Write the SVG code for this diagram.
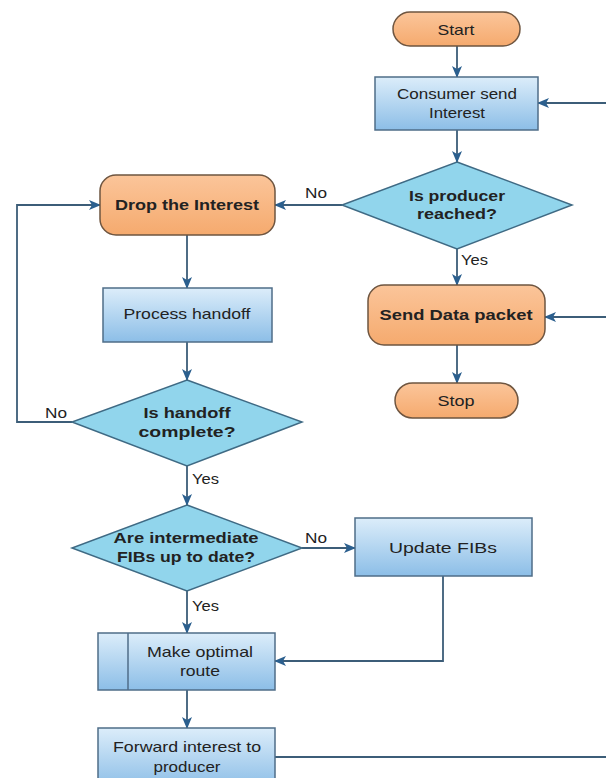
<svg xmlns="http://www.w3.org/2000/svg" width="606" height="778" viewBox="0 0 606 778">
  <defs>
    <linearGradient id="gOrange" x1="0" y1="0" x2="0" y2="1">
      <stop offset="0" stop-color="#fbc59a"/>
      <stop offset="1" stop-color="#f5aa6e"/>
    </linearGradient>
    <linearGradient id="gBlue" x1="0" y1="0" x2="0" y2="1">
      <stop offset="0" stop-color="#dcedfa"/>
      <stop offset="1" stop-color="#8cbee7"/>
    </linearGradient>
    <marker id="arrow" viewBox="0 0 12 10" refX="11" refY="5" markerWidth="12" markerHeight="10" markerUnits="userSpaceOnUse" orient="auto">
      <path d="M0,0 L12,5 L0,10 L3,5 Z" fill="#2b5f8e"/>
    </marker>
    <style>
      .term { fill: url(#gOrange); stroke: #6e5540; stroke-width: 1.5; }
      .proc { fill: url(#gBlue); stroke: #4f6d88; stroke-width: 1.5; }
      .dec { fill: #91d5ec; stroke: #3f6a84; stroke-width: 1.5; }
      .link { fill: none; stroke: #3c5d78; stroke-width: 1.8; }
      .txt { font-family: "Liberation Sans", Arial, sans-serif; font-size: 15px; fill: #222; text-anchor: middle; }
      .b { font-weight: bold; }
      .lbl { font-family: "Liberation Sans", Arial, sans-serif; font-size: 14px; fill: #222; }
    </style>
  </defs>
  <rect width="606" height="778" fill="#ffffff"/>

  <!-- connectors -->
  <g id="connectors">
    <path class="link" d="M457,46 V77" marker-end="url(#arrow)"/>
    <path class="link" d="M606,103 H538" marker-end="url(#arrow)"/>
    <path class="link" d="M457,130 V162" marker-end="url(#arrow)"/>
    <path class="link" d="M342,205 H275" marker-end="url(#arrow)"/>
    <path class="link" d="M457,249 V285" marker-end="url(#arrow)"/>
    <path class="link" d="M606,317 H545" marker-end="url(#arrow)"/>
    <path class="link" d="M457,345 V383" marker-end="url(#arrow)"/>
    <path class="link" d="M187,235 V288" marker-end="url(#arrow)"/>
    <path class="link" d="M187,342 V380" marker-end="url(#arrow)"/>
    <path class="link" d="M72,422 H17 V205 H100" marker-end="url(#arrow)"/>
    <path class="link" d="M187,466 V505" marker-end="url(#arrow)"/>
    <path class="link" d="M302,548 H355" marker-end="url(#arrow)"/>
    <path class="link" d="M187,591 V633" marker-end="url(#arrow)"/>
    <path class="link" d="M443,576 V661 H275" marker-end="url(#arrow)"/>
    <path class="link" d="M187,690 V728" marker-end="url(#arrow)"/>
    <path class="link" d="M275,757 H606"/>
    <text class="lbl" x="305" y="198" textLength="22" lengthAdjust="spacingAndGlyphs">No</text>
    <text class="lbl" x="461" y="265" textLength="27" lengthAdjust="spacingAndGlyphs">Yes</text>
    <text class="lbl" x="45" y="418" textLength="22" lengthAdjust="spacingAndGlyphs">No</text>
    <text class="lbl" x="192" y="484" textLength="27" lengthAdjust="spacingAndGlyphs">Yes</text>
    <text class="lbl" x="305" y="543" textLength="22" lengthAdjust="spacingAndGlyphs">No</text>
    <text class="lbl" x="192" y="611" textLength="27" lengthAdjust="spacingAndGlyphs">Yes</text>
  </g>

  <g id="start">
    <rect class="term" x="393" y="12" width="127" height="34" rx="17"/>
    <text class="txt" x="456" y="35" textLength="37" lengthAdjust="spacingAndGlyphs">Start</text>
  </g>

  <g id="consumer-send">
    <rect class="proc" x="375" y="77" width="163" height="53"/>
    <text class="txt" x="457" y="99" textLength="120" lengthAdjust="spacingAndGlyphs">Consumer send</text>
    <text class="txt" x="457" y="118" textLength="56" lengthAdjust="spacingAndGlyphs">Interest</text>
  </g>

  <g id="producer-reached">
    <polygon class="dec" points="457,162 572,205 457,249 342,205"/>
    <text class="txt b" x="457" y="201" textLength="96" lengthAdjust="spacingAndGlyphs">Is producer</text>
    <text class="txt b" x="457" y="219" textLength="80" lengthAdjust="spacingAndGlyphs">reached?</text>
  </g>

  <g id="drop-interest">
    <rect class="term" x="100" y="175" width="175" height="60" rx="16"/>
    <text class="txt b" x="187" y="210" textLength="144" lengthAdjust="spacingAndGlyphs">Drop the Interest</text>
  </g>

  <g id="send-data">
    <rect class="term" x="368" y="285" width="177" height="60" rx="16"/>
    <text class="txt b" x="456" y="320" textLength="153" lengthAdjust="spacingAndGlyphs">Send Data packet</text>
  </g>

  <g id="stop">
    <rect class="term" x="395" y="383" width="123" height="35" rx="17.5"/>
    <text class="txt" x="456" y="406" textLength="37" lengthAdjust="spacingAndGlyphs">Stop</text>
  </g>

  <g id="process-handoff">
    <rect class="proc" x="103" y="288" width="169" height="54"/>
    <text class="txt" x="187" y="319" textLength="127" lengthAdjust="spacingAndGlyphs">Process handoff</text>
  </g>

  <g id="handoff-complete">
    <polygon class="dec" points="187,380 302,422 187,466 72,422"/>
    <text class="txt b" x="187" y="418" textLength="87" lengthAdjust="spacingAndGlyphs">Is handoff</text>
    <text class="txt b" x="187" y="437" textLength="97" lengthAdjust="spacingAndGlyphs">complete?</text>
  </g>

  <g id="fibs-current">
    <polygon class="dec" points="187,505 302,548 187,591 72,548"/>
    <text class="txt b" x="186" y="543" textLength="145" lengthAdjust="spacingAndGlyphs">Are intermediate</text>
    <text class="txt b" x="186" y="562" textLength="138" lengthAdjust="spacingAndGlyphs">FIBs up to date?</text>
  </g>

  <g id="update-fibs">
    <rect class="proc" x="355" y="518" width="177" height="58"/>
    <text class="txt" x="443" y="553" textLength="108" lengthAdjust="spacingAndGlyphs">Update FIBs</text>
  </g>

  <g id="optimal-route">
    <rect class="proc" x="98" y="633" width="177" height="57"/>
    <line x1="128" y1="633" x2="128" y2="690" stroke="#4f6d88" stroke-width="1.5"/>
    <text class="txt" x="200" y="657" textLength="106" lengthAdjust="spacingAndGlyphs">Make optimal</text>
    <text class="txt" x="200" y="676" textLength="40" lengthAdjust="spacingAndGlyphs">route</text>
  </g>

  <g id="forward-interest">
    <rect class="proc" x="98" y="728" width="177" height="60"/>
    <text class="txt" x="187" y="752" textLength="148" lengthAdjust="spacingAndGlyphs">Forward interest to</text>
    <text class="txt" x="187" y="772" textLength="67" lengthAdjust="spacingAndGlyphs">producer</text>
  </g>
</svg>
